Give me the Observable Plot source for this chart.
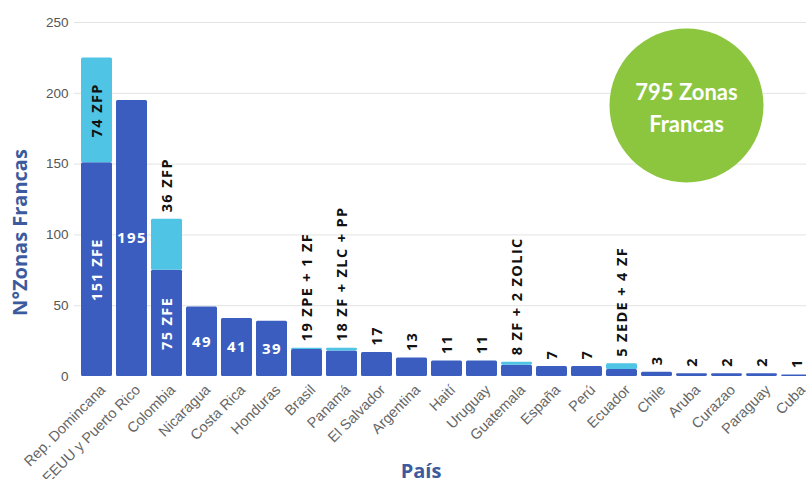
<!DOCTYPE html>
<html>
<head>
<meta charset="utf-8">
<script src="https://cdn.jsdelivr.net/npm/d3@7"></script>
<script src="https://cdn.jsdelivr.net/npm/@observablehq/plot@0.6"></script>
<style>
  html, body { margin: 0; padding: 0; background: #fff; overflow: hidden; }
  #chart { width: 806px; height: 479px; overflow: hidden; }
  #chart svg { max-width: none !important; width: 830px !important; height: 479px !important; }
  g[font-family*="DejaVu"] text { letter-spacing: 1.4px; }
</style>
</head>
<body>
<div id="chart"></div>
<script>
const countries = ["Rep. Domincana", "EEUU y Puerto Rico", "Colombia", "Nicaragua", "Costa Rica", "Honduras", "Brasil", "Panamá", "El Salvador", "Argentina", "Haití", "Uruguay", "Guatemala", "España", "Perú", "Ecuador", "Chile", "Aruba", "Curazao", "Paraguay", "Cuba"];
const primaryValues = [151, 195, 75, 49, 41, 39, 19, 18, 17, 13, 11, 11, 8, 7, 7, 5, 3, 2, 2, 2, 1];
const secondaryValues = [74, 0, 36, 0, 0, 0, 1, 2, 0, 0, 0, 0, 2, 0, 0, 4, 0, 0, 0, 0, 0];
// labels drawn inside the primary (dark) segment; rotated or horizontal
const insideLabels = ["151 ZFE", "195", "75 ZFE", "49", "41", "39", "", "", "", "", "", "", "", "", "", "", "", "", "", "", ""];
const insideRotated = [true, false, true, false, false, false, false, false, false, false, false, false, false, false, false, false, false, false, false, false, false];
// label inside the secondary (light) segment
const secondaryLabels = ["74 ZFP", "", "", "", "", "", "", "", "", "", "", "", "", "", "", "", "", "", "", "", ""];
// labels above the bar top
const topLabels = ["", "", "36 ZFP", "", "", "", "19 ZPE + 1 ZF", "18 ZF + ZLC + PP", "17", "13", "11", "11", "8 ZF + 2 ZOLIC", "7", "7", "5 ZEDE + 4 ZF", "3", "2", "2", "2", "1"];
const yTicks = [0, 50, 100, 150, 200, 250];
const badgeText = "795 Zonas\nFrancas";
const yTitle = "N°Zonas Francas";
const xTitle = "País";

const rows = countries.map((c, i) => ({
  country: c,
  primary: primaryValues[i],
  secondary: secondaryValues[i],
  total: primaryValues[i] + secondaryValues[i],
  inside: insideLabels[i],
  rot: insideRotated[i],
  sec: secondaryLabels[i],
  top: topLabels[i]
}));

const darkBlue = "#3a5dbf";
const lightBlue = "#4fc4e4";
const titleBlue = "#3c5a9e";
const labelFont = "'Open Sans', 'DejaVu Sans', sans-serif";
const titleFont = "'Open Sans', sans-serif";

const chart = Plot.plot({
  width: 830,
  height: 479,
  marginLeft: 74,
  marginRight: 11,
  marginTop: 22,
  marginBottom: 103,
  style: { fontFamily: "'Liberation Sans', Arial, sans-serif", background: "#fff" },
  x: { domain: countries, padding: 0.12, label: null },
  y: { domain: [0, 250], label: null },
  marks: [
    Plot.gridY(yTicks.slice(1), { stroke: "#e3e3e3", strokeOpacity: 1 }),
    Plot.axisY(yTicks, { tickSize: 0, tickPadding: 6, fontSize: 13.5, fill: "#555", label: null }),
    Plot.axisX({ tickRotate: -45, tickSize: 0, tickPadding: 11, dx: 6, fontSize: 14.5, fill: "#666", label: null }),
    Plot.barY(rows, { x: "country", y1: 0, y2: "primary", fill: darkBlue, rx: 1.5 }),
    Plot.barY(rows.filter(d => d.secondary > 0), { x: "country", y1: "primary", y2: "total", fill: lightBlue, rx: 1.5 }),
    Plot.text(rows.filter(d => d.inside && d.rot), {
      x: "country", y: d => d.primary / 2, text: "inside", rotate: -90,
      fill: "#fff", fontSize: 14.5, fontWeight: "bold", fontFamily: labelFont
    }),
    Plot.text(rows.filter(d => d.inside && !d.rot), {
      x: "country", y: d => d.primary / 2, text: "inside",
      fill: "#fff", fontSize: 15, fontWeight: "bold", fontFamily: labelFont
    }),
    Plot.text(rows.filter(d => d.sec), {
      x: "country", y: d => d.primary + d.secondary / 2, text: "sec", rotate: -90,
      fill: "#111", fontSize: 14.5, fontWeight: "bold", fontFamily: labelFont
    }),
    Plot.text(rows.filter(d => d.top), {
      x: "country", y: "total", text: "top", rotate: -90, textAnchor: "start", dy: -7,
      fill: "#111", fontSize: 14.5, fontWeight: "bold", fontFamily: labelFont
    }),
    Plot.dot([badgeText], { frameAnchor: "top-right", dx: -133, dy: 83, r: 77, fill: "#8cc63f" }),
    Plot.text([badgeText], {
      frameAnchor: "top-right", dx: -133, dy: 83, text: d => d, fill: "#fff",
      textAnchor: "middle", lineAnchor: "middle",
      fontSize: 22, fontWeight: "bold", fontFamily: "Lato, sans-serif", lineHeight: 1.45
    }),
    Plot.text([yTitle], {
      frameAnchor: "left", dx: -54, dy: 33, text: d => d, rotate: -90,
      textAnchor: "middle", lineAnchor: "middle",
      fill: titleBlue, fontSize: 20, fontWeight: "bold", fontFamily: titleFont
    }),
    Plot.text([xTitle], {
      frameAnchor: "bottom", dx: -26, dy: 95, text: d => d,
      textAnchor: "middle", lineAnchor: "middle",
      fill: titleBlue, fontSize: 20, fontWeight: "bold", fontFamily: titleFont
    })
  ]
});
document.getElementById("chart").appendChild(chart);
</script>
</body>
</html>
